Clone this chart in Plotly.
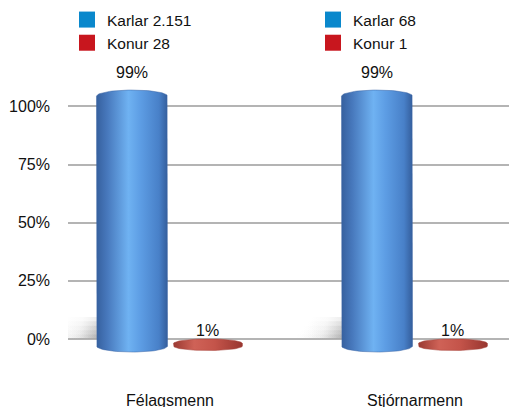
import numpy as np
import plotly.graph_objects as go

# ---- data ----
categories = ["Félagsmenn", "Stjórnarmenn"]
karlar_pct = [99, 99]
konur_pct = [1, 1]
karlar_count = [2151, 68]
konur_count = [28, 1]
y_ticks = [0, 25, 50, 75, 100]
y_ticklabels = ["0%", "25%", "50%", "75%", "100%"]

# ---- style ----
FONT = "Liberation Sans, Arial, sans-serif"
BLUE_LEG = "#0a88cc"
RED_LEG = "#c8161e"
BLUE_GRAD = [[0, "#36609e"], [0.15, "#4778bc"], [0.45, "#6fb2f2"], [0.62, "#5d9de4"],
             [0.88, "#4880c8"], [1, "#345e9c"]]
RED_GRAD = [[0, "#9a3a32"], [0.3, "#cf6257"], [0.6, "#c4544a"], [1, "#983630"]]
SHADOW_GRAD = [[0, "rgba(110,110,110,0)"], [0.5, "rgba(110,110,110,0.03)"], [1, "rgba(90,90,90,0.12)"]]
OFFSET = 0.155
WIDTH = 0.29
CAP_BLUE = 2.4   # ellipse half-height in y2 units
CAP_RED = 1.8
SHADOW_W = 0.2
SHADOW_H = 9.5
SHADOW_LAYERS = 5
ML, MT, MB = 68, 60, 22
W, H = 509, 407
PW, PH = W - ML, H - MT - MB


def fmt(n):
    return f"{n:,}".replace(",", ".")


def cylinder(xc, v, w, cap):
    t = np.linspace(np.pi, 2 * np.pi, 40)
    x0, x1 = xc - w / 2, xc + w / 2
    xs, ys = [x0, x0], [v, 0]
    xs += list(xc + (w / 2) * np.cos(t))
    ys += list(0 + cap * np.sin(t))
    xs += [x1, x1]
    ys += [0, v]
    t2 = np.linspace(0, np.pi, 40)
    xs += list(xc + (w / 2) * np.cos(t2))
    ys += list(v + cap * np.sin(t2))
    return xs, ys, x0, x1


fig = go.Figure()
annotations = []

# soft floor shadows to the left of the tall bars (stacked translucent layers)
for i, cat in enumerate(categories):
    left = i - OFFSET - WIDTH / 2 + 0.01
    for k in range(1, SHADOW_LAYERS + 1):
        h = SHADOW_H * k / SHADOW_LAYERS
        wk = SHADOW_W * (0.6 + 0.4 * (SHADOW_LAYERS - k + 1) / SHADOW_LAYERS)
        xs = [left, left - wk, left - wk, left, left]
        ys = [0.3, 0.3, h, h, 0.3]
        fig.add_trace(go.Scatter(
            x=xs, y=ys, mode="lines", fill="toself", line=dict(width=0),
            fillgradient=dict(type="horizontal", colorscale=SHADOW_GRAD,
                              start=left - wk, stop=left),
            showlegend=False, hoverinfo="skip"))

for i, cat in enumerate(categories):
    for val, off, grad, cap, line_c, shift in [
        (karlar_pct[i], -OFFSET, BLUE_GRAD, CAP_BLUE, "#3a64a4", 13),
        (konur_pct[i], OFFSET, RED_GRAD, CAP_RED, "#a54038", 2),
    ]:
        xs, ys, x0, x1 = cylinder(i + off, val, WIDTH * (1 if off < 0 else 0.97), cap)
        fig.add_trace(go.Scatter(
            x=xs, y=ys, xaxis="x", yaxis="y2", mode="lines", fill="toself",
            line=dict(width=0.5, color=line_c),
            fillgradient=dict(type="horizontal", colorscale=grad, start=x0, stop=x1),
            showlegend=False, hoverinfo="skip"))
        annotations.append(dict(
            x=i + off, y=val, xref="x", yref="y2", text=f"{val}%",
            showarrow=False, yanchor="bottom", yshift=shift,
            font=dict(family=FONT, size=16, color="#111")))

# legend entries
legend_items = [
    (f"Karlar {fmt(karlar_count[0])}", BLUE_LEG, "legend"),
    (f"Konur {fmt(konur_count[0])}", RED_LEG, "legend"),
    (f"Karlar {fmt(karlar_count[1])}", BLUE_LEG, "legend2"),
    (f"Konur {fmt(konur_count[1])}", RED_LEG, "legend2"),
]
for name, col, lg in legend_items:
    fig.add_trace(go.Scatter(
        x=[-5], y=[-100], mode="markers", name=name, legend=lg,
        marker=dict(symbol="square", size=16, color=col), hoverinfo="skip"))

fig.update_layout(
    width=W, height=H,
    margin=dict(l=ML, r=0, t=MT, b=MB, autoexpand=False),
    plot_bgcolor="white", paper_bgcolor="white",
    font=dict(family=FONT, size=16, color="#111"),
    annotations=annotations,
    xaxis=dict(range=[-0.4163, 1.3837], tickvals=[0, 1], ticktext=categories,
               showgrid=False, zeroline=False, showline=False, ticks="",
               ticklabelstandoff=4, tickfont=dict(size=16)),
    yaxis=dict(range=[-19.8, 120], tickvals=y_ticks, ticktext=y_ticklabels,
               showgrid=True, gridcolor="#b4b4b4", gridwidth=1.6,
               zeroline=False, showline=False, ticks="",
               ticklabelstandoff=17, tickfont=dict(size=16)),
    yaxis2=dict(range=[-15.45, 113.3], overlaying="y", visible=False),
    legend=dict(x=(67 - ML) / PW, y=1 + (MT - 3) / PH,
                xanchor="left", yanchor="top", font=dict(size=15.5),
                bgcolor="rgba(0,0,0,0)", tracegroupgap=0),
    legend2=dict(x=(313 - ML) / PW, y=1 + (MT - 3) / PH,
                 xanchor="left", yanchor="top", font=dict(size=15.5),
                 bgcolor="rgba(0,0,0,0)", tracegroupgap=0),
)

fig.write_html("out.html", config={"displayModeBar": False},
               post_script="document.body.style.margin='0';")
